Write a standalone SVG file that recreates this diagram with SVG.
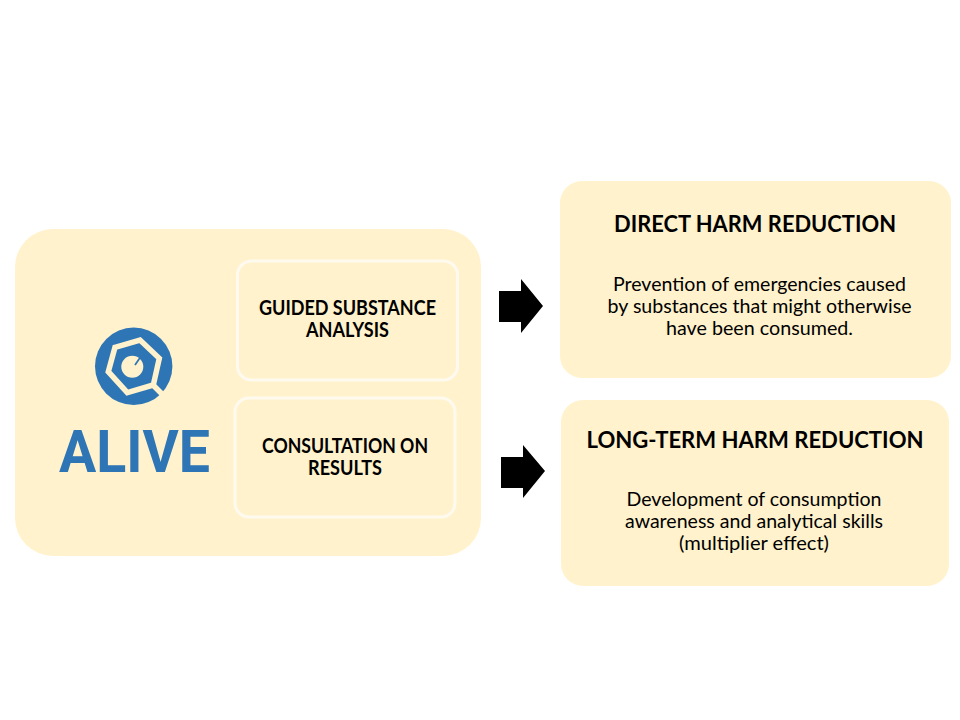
<svg xmlns="http://www.w3.org/2000/svg" width="960" height="720" viewBox="0 0 960 720">
<style>
.panel{fill:#fff2cc}
.inner{fill:#fff2cc;stroke:#fffaf0;stroke-width:3}
.t{font-family:Lato,"Liberation Sans",sans-serif;fill:#000;text-anchor:middle}
.b{font-weight:700;font-size:20px}
.h{font-weight:700;font-size:23.5px}
.p{font-size:19px}
.arrow{fill:#000}
</style>
<rect width="960" height="720" fill="#fff"/>
<g id="alive-panel">
<rect class="panel" x="15" y="229" width="466" height="327" rx="38"/>
<g id="alive-logo">
<circle cx="133.700" cy="366.300" r="38.700" fill="#2e75b6"/>
<path d="M115 347.300L140 340L159.300 358.300L153.300 385L127.300 392.700L108.300 371.700Z" fill="none" stroke="#fff2cc" stroke-width="5.500" stroke-linejoin="miter"/>
<path d="M153 385L162 394" stroke="#fff2cc" stroke-width="5.500"/>
<circle cx="132.300" cy="366.700" r="11" fill="#fff2cc"/>
<path d="M135 365L140.500 357" stroke="#2e75b6" stroke-width="1.800"/>
<text x="134.500" y="471.500" font-family="Roboto,'Liberation Sans',sans-serif" font-size="58.500" font-weight="700" fill="#2e75b6" text-anchor="middle" textLength="151" lengthAdjust="spacingAndGlyphs">ALIVE</text>
</g>
</g>
<g id="guided-analysis">
<rect class="inner" x="237.500" y="261" width="220" height="119" rx="14"/>
<text class="t b" x="347.500" y="315" textLength="177" lengthAdjust="spacingAndGlyphs">GUIDED SUBSTANCE</text>
<text class="t b" x="347.500" y="337" textLength="83" lengthAdjust="spacingAndGlyphs">ANALYSIS</text>
</g>
<g id="consultation">
<rect class="inner" x="235" y="398" width="220" height="119" rx="14"/>
<text class="t b" x="345" y="453" textLength="166" lengthAdjust="spacingAndGlyphs">CONSULTATION ON</text>
<text class="t b" x="345" y="475" textLength="74" lengthAdjust="spacingAndGlyphs">RESULTS</text>
</g>
<g id="direct-harm">
<rect class="panel" x="560" y="181" width="391" height="197" rx="22"/>
<text class="t h" x="755" y="232" textLength="282" lengthAdjust="spacingAndGlyphs">DIRECT HARM REDUCTION</text>
<text class="t p" x="759.500" y="291" textLength="293" lengthAdjust="spacingAndGlyphs">Prevention of emergencies caused</text>
<text class="t p" x="759.500" y="313" textLength="304" lengthAdjust="spacingAndGlyphs">by substances that might otherwise</text>
<text class="t p" x="759.500" y="335" textLength="187" lengthAdjust="spacingAndGlyphs">have been consumed.</text>
</g>
<g id="long-term-harm">
<rect class="panel" x="561" y="400" width="388" height="186" rx="22"/>
<text class="t h" x="755" y="448" textLength="337" lengthAdjust="spacingAndGlyphs">LONG-TERM HARM REDUCTION</text>
<text class="t p" x="754" y="506" textLength="255" lengthAdjust="spacingAndGlyphs">Development of consumption</text>
<text class="t p" x="754" y="528" textLength="258" lengthAdjust="spacingAndGlyphs">awareness and analytical skills</text>
<text class="t p" x="754" y="550" textLength="150" lengthAdjust="spacingAndGlyphs">(multiplier effect)</text>
</g>
<g id="connectors">
<polygon class="arrow" points="499,291 521,291 521,279 543,306 521,333 521,322 499,322"/>
<polygon class="arrow" points="501,457 523,457 523,445 545,471 523,498 523,488 501,488"/>
</g>
</svg>
